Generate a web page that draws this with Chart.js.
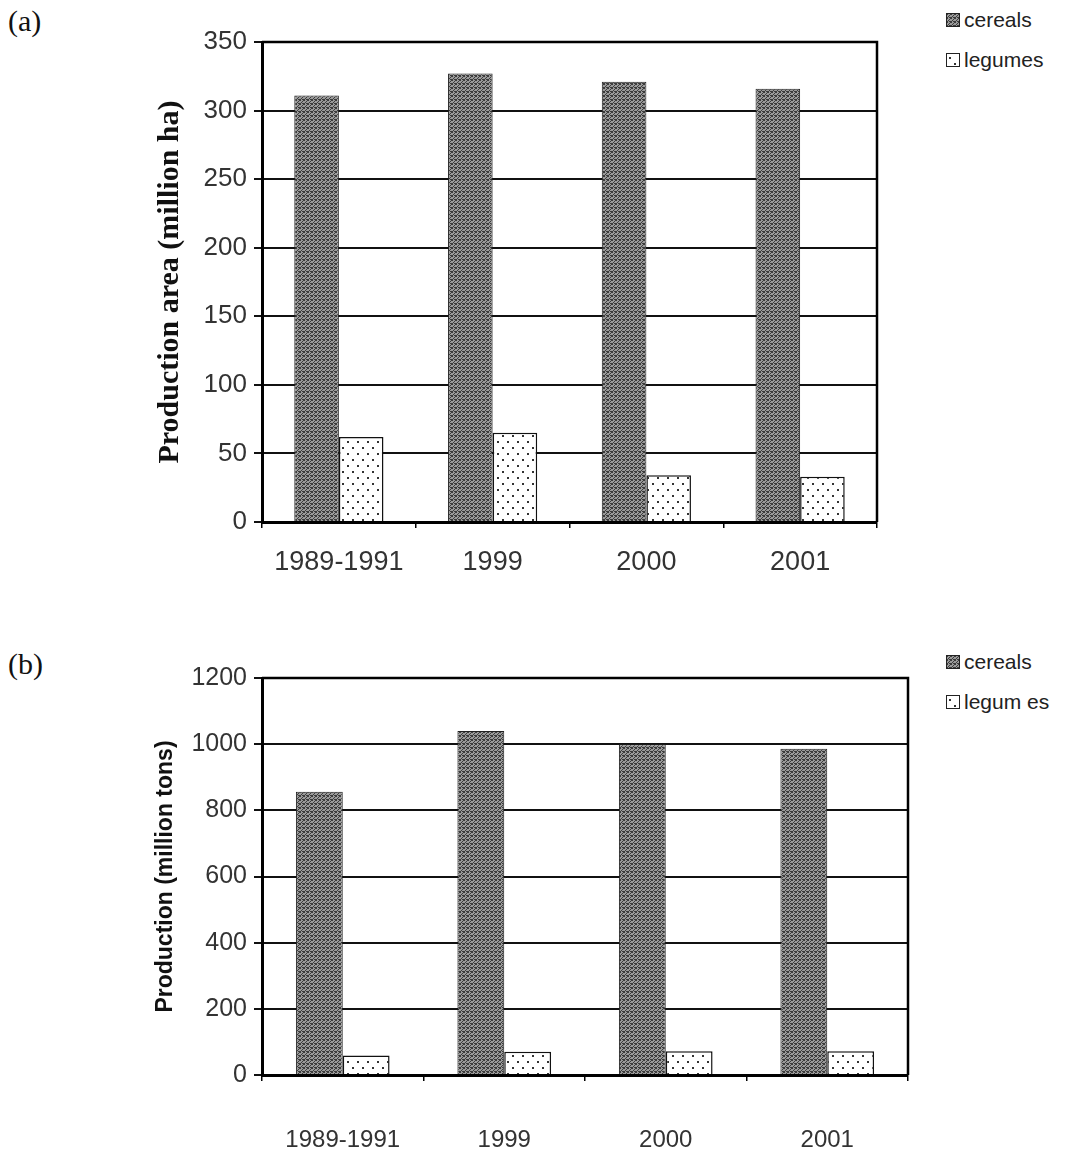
<!DOCTYPE html>
<html>
<head>
<meta charset="utf-8">
<script src="https://cdn.jsdelivr.net/npm/chart.js@4.4.0/dist/chart.umd.min.js"></script>
<style>
  body { margin: 0; background: #fff; width: 1077px; height: 1164px; position: relative; overflow: hidden; font-family: 'Liberation Sans', Arial, sans-serif; }
  .box { position: absolute; left: 0; width: 1077px; }
  #boxA { top: 0; height: 600px; }
  #boxB { top: 620px; height: 544px; }
  .tag { position: absolute; left: 8px; font-family: 'Liberation Serif', serif; font-size: 30px; color: #111; }
  .legend { position: absolute; left: 946px; font-size: 21px; color: #222; line-height: 40px; }
  .sw { display: inline-block; width: 12px; height: 12px; border: 1.5px solid #222; margin-right: 4px; vertical-align: 0px; }
</style>
</head>
<body>
<div class="tag" style="top:4px">(a)</div>
<div class="tag" style="top:647px">(b)</div>
<div class="legend" style="top:0px"><span class="sw lg-c"></span>cereals<br><span class="sw lg-l"></span>legumes</div>
<div class="legend" style="top:642px"><span class="sw lg-c"></span>cereals<br><span class="sw lg-l"></span>legum es</div>
<div class="box" id="boxA"><canvas id="chartA"></canvas></div>
<div class="box" id="boxB"><canvas id="chartB"></canvas></div>
<script>
const labels = ['1989-1991', '1999', '2000', '2001'];
const seriesNames = ['cereals', 'legumes'];

// (a) production area, million ha
const areaCereals = [311, 327, 321, 316];
const areaLegumes = [62, 65, 34, 33];

// (b) production, million tons
const prodCereals = [856, 1040, 1000, 986];
const prodLegumes = [59, 70, 72, 72];

// stippled fills like the scanned print
function makePattern(kind) {
  const c = document.createElement('canvas');
  const g = c.getContext('2d');
  if (kind === 'dark') {
    c.width = 4; c.height = 4;
    g.fillStyle = '#9a9a9a';
    g.fillRect(0, 0, 4, 4);
    g.fillStyle = '#3c3c3c';
    [[0,0],[2,1],[1,2],[3,3],[3,0],[0,3],[2,3]].forEach(p => g.fillRect(p[0], p[1], 1, 1));
  } else {
    c.width = 10; c.height = 12;
    g.fillStyle = '#ffffff';
    g.fillRect(0, 0, 10, 12);
    g.fillStyle = '#333';
    g.fillRect(2, 3, 2, 2);
    g.fillRect(7, 9, 2, 2);
  }
  return c;
}
const darkTile = makePattern('dark');
const dotTile = makePattern('dots');

document.querySelectorAll('.lg-c').forEach(e => e.style.background = 'url(' + darkTile.toDataURL() + ')');
document.querySelectorAll('.lg-l').forEach(e => e.style.background = 'url(' + dotTile.toDataURL() + ')');

const framePlugin = {
  id: 'frame',
  afterDraw(chart) {
    const a = chart.chartArea, ctx = chart.ctx;
    ctx.save();
    ctx.strokeStyle = '#000';
    ctx.lineWidth = 2.5;
    ctx.beginPath();
    ctx.moveTo(a.left, a.top);
    ctx.lineTo(a.right, a.top);
    ctx.lineTo(a.right, a.bottom);
    ctx.stroke();
    ctx.restore();
  }
};

function makeChart(id, cereals, legumes, o) {
  const ctx = document.getElementById(id).getContext('2d');
  return new Chart(ctx, {
    type: 'bar',
    data: {
      labels: labels,
      datasets: [{
        label: seriesNames[0],
        data: cereals,
        backgroundColor: ctx.createPattern(darkTile, 'repeat'),
        borderColor: '#222',
        borderWidth: 1,
        categoryPercentage: 0.58,
        barPercentage: 1.0
      }, {
        label: seriesNames[1],
        data: legumes,
        backgroundColor: ctx.createPattern(dotTile, 'repeat'),
        borderColor: '#111',
        borderWidth: 1.5,
        categoryPercentage: 0.58,
        barPercentage: 1.0
      }]
    },
    options: {
      responsive: true,
      maintainAspectRatio: false,
      animation: false,
      layout: { padding: o.padding },
      plugins: { legend: { display: false }, tooltip: { enabled: false } },
      scales: {
        x: {
          afterFit: s => { s.height = o.xh; },
          grid: { drawOnChartArea: false, drawTicks: true, tickLength: 6, color: '#000', lineWidth: 1.5 },
          border: { display: true, color: '#000', width: 3 },
          ticks: { color: '#333', padding: o.xpad, font: o.xfont }
        },
        y: {
          min: 0,
          max: o.max,
          afterFit: s => { s.width = o.yw; },
          grid: { color: '#111', lineWidth: 2, tickLength: 8 },
          border: { display: true, color: '#000', width: 3 },
          ticks: { stepSize: o.step, color: '#333', padding: 7, font: o.yfont, callback: v => String(v) },
          title: { display: true, text: o.title, color: '#111', font: o.tfont, padding: 0 }
        }
      }
    },
    plugins: [framePlugin]
  });
}

makeChart('chartA', areaCereals, areaLegumes, {
  padding: { left: 152, top: 42, right: 200, bottom: 0 },
  xh: 78, yw: 110, max: 350, step: 50, xpad: 18,
  title: 'Production area (million ha)',
  xfont: { family: 'Liberation Sans', size: 27 },
  yfont: { family: 'Liberation Sans', size: 26 },
  tfont: { family: 'Liberation Serif', size: 30, weight: 'bold' }
});

makeChart('chartB', prodCereals, prodLegumes, {
  padding: { left: 152, top: 58, right: 169, bottom: 0 },
  xh: 89, yw: 110, max: 1200, step: 200, xpad: 45,
  title: 'Production (million tons)',
  xfont: { family: 'Liberation Sans', size: 24 },
  yfont: { family: 'Liberation Sans', size: 25 },
  tfont: { family: 'Liberation Sans', size: 23, weight: 'bold' }
});
</script>
</body>
</html>
